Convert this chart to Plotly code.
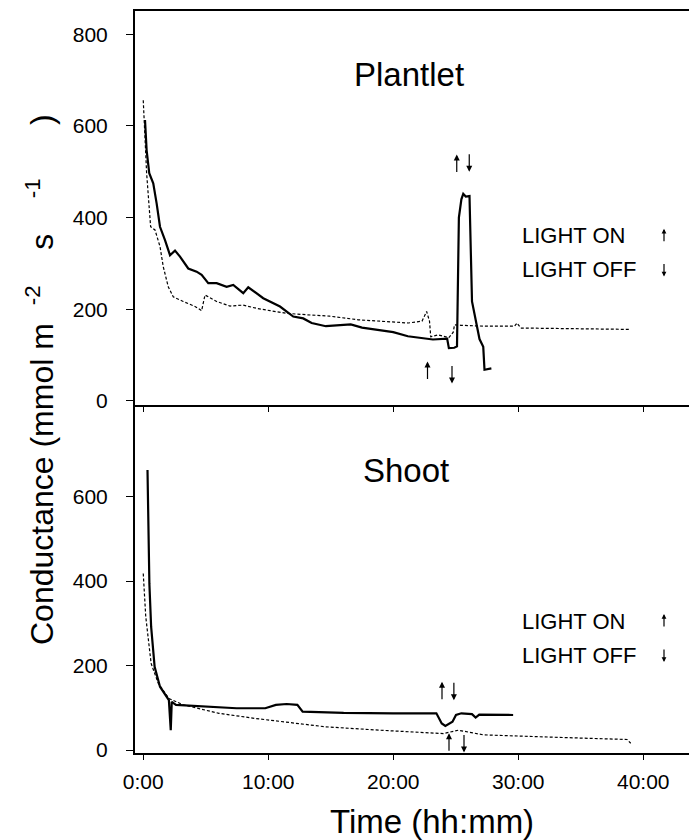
import plotly.graph_objects as go

# ---------------- data (time in hours, conductance in mmol m-2 s-1) ----------------
plantlet_solid_t = [0.14, 0.27, 0.48, 0.8, 1.07, 1.34, 1.74, 2.14, 2.54, 2.94, 3.6, 4.27, 4.67, 5.2,
                    5.87, 6.67, 7.2, 8.0, 8.4, 9.6, 10.94, 12.0, 12.8, 13.47, 14.61, 15.5, 16.6, 17.5,
                    18.89, 20.0, 21.17, 22.2, 23.17, 24.31, 24.45, 24.88, 25.1, 25.25, 25.45, 25.6,
                    25.8, 26.1, 26.3, 26.9, 27.2, 27.3, 27.85]
plantlet_solid_v = [613, 547, 497, 475, 431, 380, 351, 318, 328, 315, 289, 282, 275, 257,
                    257, 249, 253, 235, 248, 224, 206, 184, 180, 170, 163, 165, 167, 160,
                    155, 150, 141, 138, 134, 136, 115, 116, 119, 400, 440, 452,
                    446, 447, 217, 135, 118, 68, 71]

plantlet_dash_t = [0.0, 0.14, 0.27, 0.59, 0.94, 1.34, 1.6, 2.0, 2.4, 3.2, 4.14, 4.67, 4.94, 5.87,
                   6.94, 8.0, 9.07, 10.14, 11.47, 13.07, 14.9, 17.2, 18.9, 21.2, 22.3, 22.67, 22.9,
                   23.0, 23.6, 24.45, 24.8, 24.9, 25.4, 27.4, 29.7, 29.9, 30.2, 39.0]
plantlet_dash_v = [656, 569, 497, 380, 373, 337, 293, 249, 227, 217, 206, 197, 231, 217,
                   207, 209, 202, 197, 191, 188, 185, 177, 174, 170, 174, 195, 174,
                   140, 144, 138, 150, 166, 165, 163, 163, 170, 159, 156]

shoot_solid_t = [0.34, 0.4, 0.49, 0.63, 0.91, 1.34, 1.77, 2.05, 2.2, 2.28, 2.62, 4.62, 7.47, 9.76,
                 10.61, 11.47, 12.33, 12.75, 16.03, 20.0, 23.45, 23.88, 24.17, 24.74, 25.02, 25.45,
                 26.3, 26.59, 26.88, 29.59]
shoot_solid_v = [663, 513, 394, 292, 197, 150, 130, 118, 47, 114, 107, 103, 99, 99,
                 107, 109, 107, 91, 88, 87, 87, 63, 57, 67, 83, 87,
                 85, 77, 84, 83]

shoot_dash_t = [0.0, 0.2, 0.63, 1.2, 2.05, 3.2, 6.05, 8.9, 11.75, 14.6, 18.9, 24.0, 25.2, 27.2,
                33.2, 38.7, 39.0]
shoot_dash_v = [418, 316, 205, 158, 122, 107, 87, 75, 65, 55, 47, 39, 47, 36,
                30, 25, 16]

x_tickvals = [0, 10, 20, 30, 40]
x_ticktext = ["0:00", "10:00", "20:00", "30:00", "40:00"]
top_yticks = [0, 200, 400, 600, 800]
bot_yticks = [0, 200, 400, 600]

# light on/off arrows: (time, head value, direction)
plantlet_arrows = [(22.74, 86, "up"), (24.7, 38, "down"), (25.08, 538, "up"), (26.08, 500, "down")]
shoot_arrows = [(23.9, 162, "up"), (24.85, 118, "down"), (24.46, 40, "up"), (25.66, -6, "down")]

FONT = "Liberation Sans, Arial, Helvetica, sans-serif"
NB = "\u00a0"

fig = go.Figure()
fig.add_trace(go.Scatter(x=plantlet_dash_t, y=plantlet_dash_v, mode="lines",
                         line=dict(color="black", width=1.2, dash="3px,2px"),
                         xaxis="x2", yaxis="y2", showlegend=False))
fig.add_trace(go.Scatter(x=plantlet_solid_t, y=plantlet_solid_v, mode="lines",
                         line=dict(color="black", width=2.2),
                         xaxis="x2", yaxis="y2", showlegend=False))
fig.add_trace(go.Scatter(x=shoot_dash_t, y=shoot_dash_v, mode="lines",
                         line=dict(color="black", width=1.2, dash="3px,2px"),
                         xaxis="x", yaxis="y", showlegend=False))
fig.add_trace(go.Scatter(x=shoot_solid_t, y=shoot_solid_v, mode="lines",
                         line=dict(color="black", width=2.2),
                         xaxis="x", yaxis="y", showlegend=False))

W, H = 689, 840
L, R, T, B = 135, 0, 11, 87
plot_h = H - T - B
split_px = 405
top_dom0 = (H - B - split_px) / plot_h

xr = [-0.66, 43.66]
common_x = dict(range=xr, tickvals=x_tickvals, showline=True, linecolor="black", linewidth=1.5,
                ticks="outside", ticklen=5, tickcolor="black", showgrid=False, zeroline=False)
common_y = dict(showline=True, linecolor="black", linewidth=2, ticks="outside", ticklen=7,
                tickcolor="black", showgrid=False, zeroline=False,
                tickfont=dict(family=FONT, size=21, color="black"), ticklabelstandoff=14)

fig.update_layout(
    width=W, height=H, margin=dict(l=L, r=R, t=T, b=B),
    paper_bgcolor="white", plot_bgcolor="white",
    xaxis=dict(**common_x, domain=[0, 1], anchor="y", ticktext=x_ticktext,
               tickfont=dict(family=FONT, size=21, color="black"), ticklabelstandoff=4),
    yaxis=dict(**common_y, domain=[0, top_dom0], anchor="x", range=[-7, 817], tickvals=bot_yticks),
    xaxis2=dict(**common_x, domain=[0, 1], anchor="y2", showticklabels=False, mirror=True),
    yaxis2=dict(**common_y, domain=[top_dom0, 1], anchor="x2", range=[-9, 851], tickvals=top_yticks),
)

def py(px):
    return (H - B - px) / plot_h

def pxx(px):
    return (px - L) / (W - L - R)

def text_ann(text, x, y, size, xanchor="center", angle=0):
    return dict(text=text, x=pxx(x), y=py(y), xref="paper", yref="paper", showarrow=False,
                xanchor=xanchor, yanchor="middle", textangle=angle,
                font=dict(family=FONT, size=size, color="black"))

ann = []
ann.append(text_ann("Plantlet", 409, 75, 33))
ann.append(text_ann("Shoot", 406, 471, 33))
ann.append(text_ann("Time (hh:mm)", 432, 822, 33))
ylab = ("Conductance (mmol m" + NB * 2 + "<sup>-2</sup>" + NB * 4 + "s" + NB * 4 + "<sup>-1</sup>"
        + NB * 6 + ")")
ann.append(text_ann(ylab, 40, 380, 32, angle=-90))

for on_y, off_y in [(235.7, 269.5), (621, 655)]:
    ann.append(text_ann("LIGHT ON", 520, on_y, 22, xanchor="left"))
    ann.append(text_ann("LIGHT OFF", 520, off_y, 22, xanchor="left"))
    ann.append(dict(text="", x=pxx(664), y=py(on_y - 7), xref="paper", yref="paper",
                    showarrow=True, ax=0, ay=14, arrowhead=2, arrowsize=0.8, arrowwidth=1.2,
                    arrowcolor="black"))
    ann.append(dict(text="", x=pxx(664), y=py(off_y + 7), xref="paper", yref="paper",
                    showarrow=True, ax=0, ay=-14, arrowhead=2, arrowsize=0.8, arrowwidth=1.2,
                    arrowcolor="black"))

for (t, v, d) in plantlet_arrows:
    ann.append(dict(text="", x=t, y=v, xref="x2", yref="y2", showarrow=True, ax=0,
                    ay=19 if d == "up" else -19, arrowhead=2, arrowsize=1, arrowwidth=1.2,
                    arrowcolor="black"))
for (t, v, d) in shoot_arrows:
    ann.append(dict(text="", x=t, y=v, xref="x", yref="y", showarrow=True, ax=0,
                    ay=19 if d == "up" else -19, arrowhead=2, arrowsize=1, arrowwidth=1.2,
                    arrowcolor="black"))

fig.update_layout(annotations=ann)
fig.write_html("out.html")
